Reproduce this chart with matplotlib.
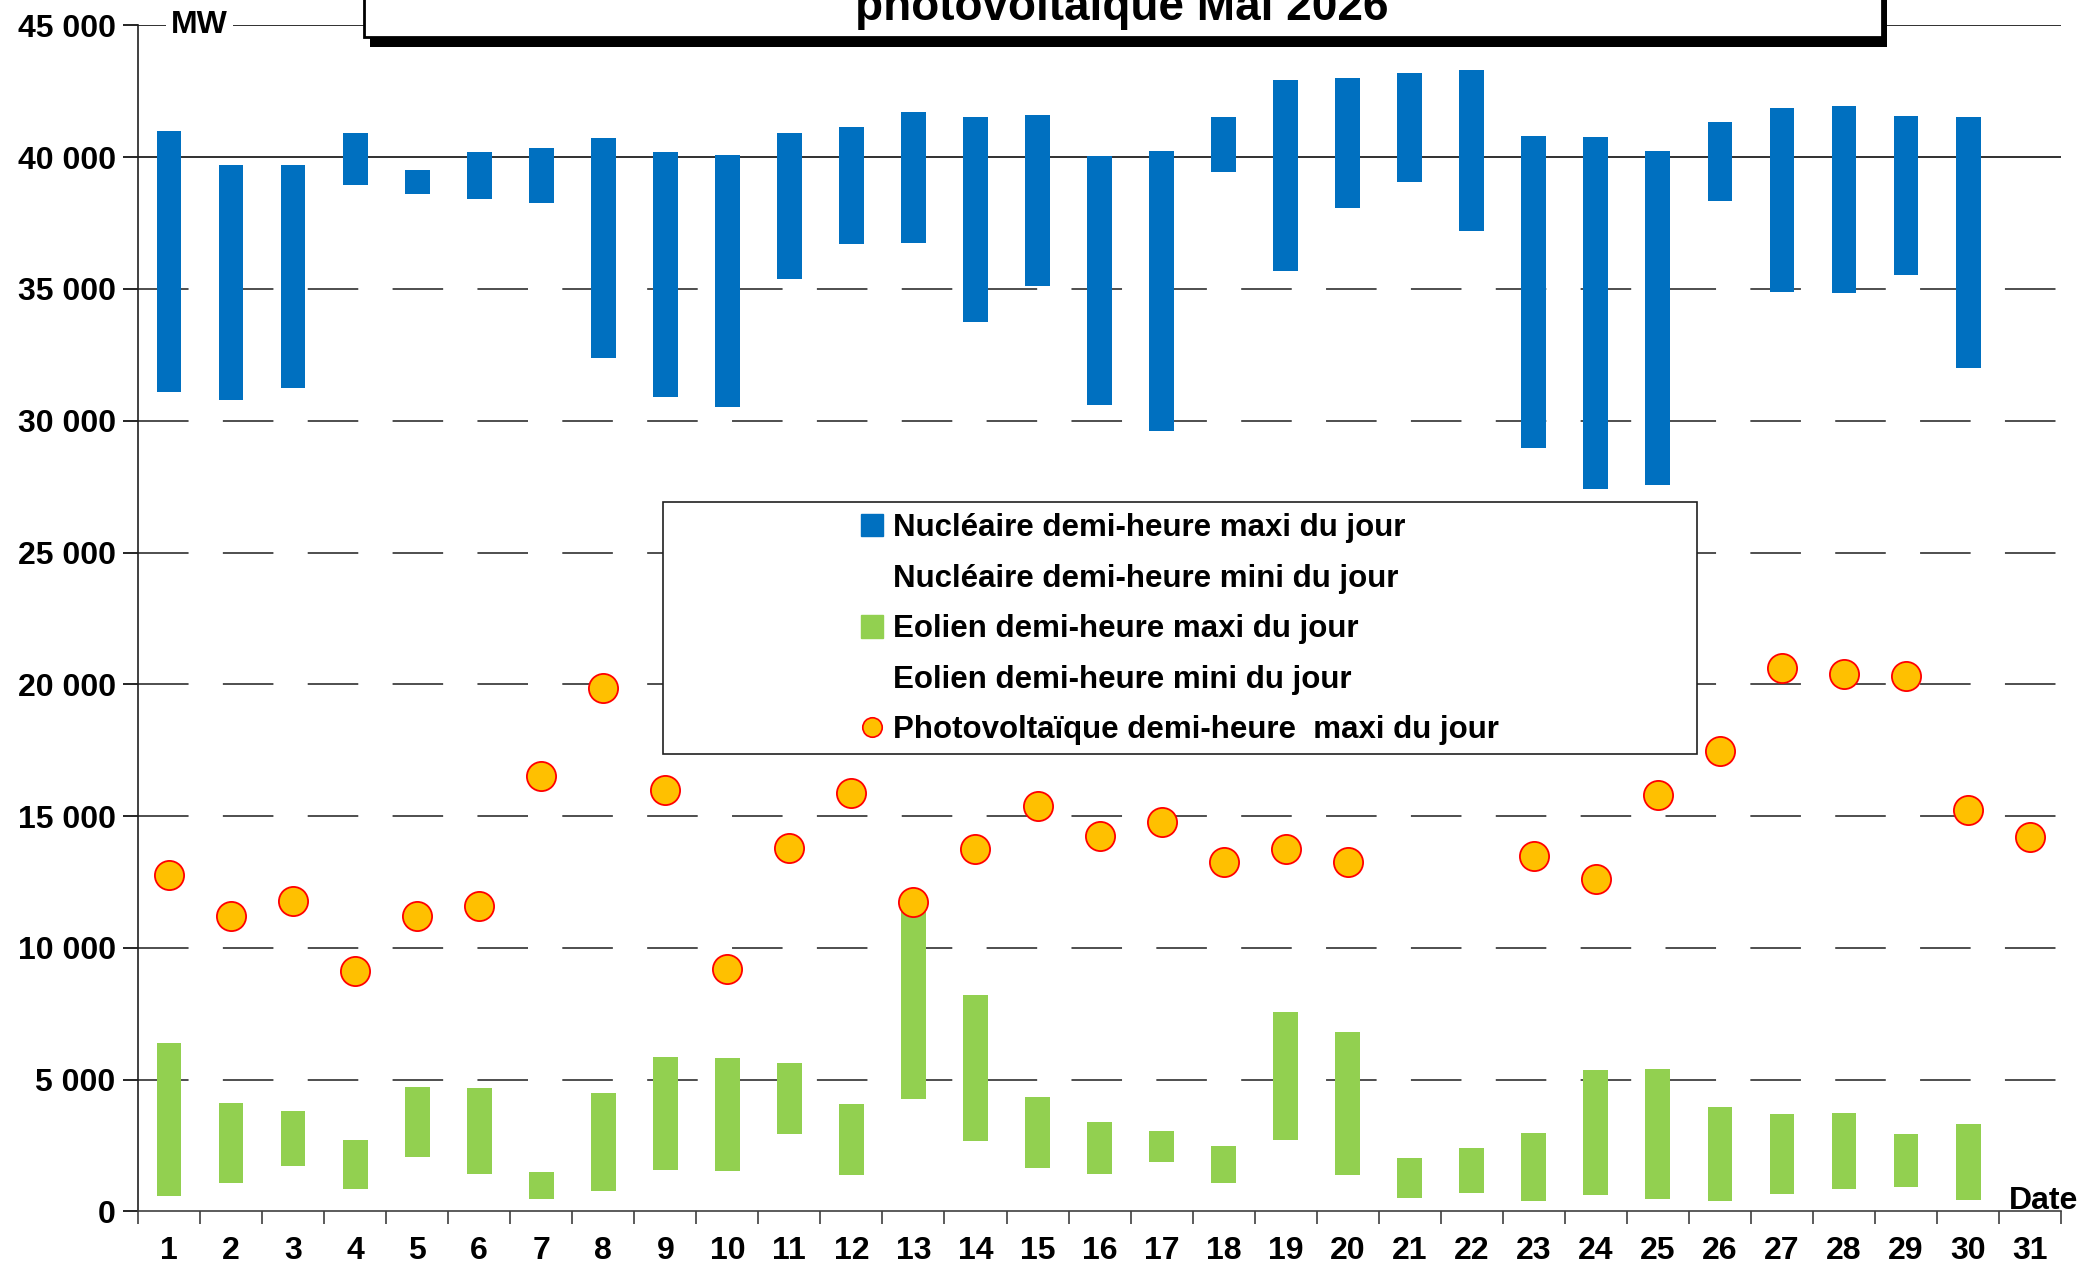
import numpy as np
import matplotlib
matplotlib.use("Agg")
import matplotlib.pyplot as plt
from matplotlib.patches import Rectangle
from matplotlib.lines import Line2D

plt.rcParams['font.family'] = ['Liberation Sans', 'DejaVu Sans']
plt.rcParams['font.weight'] = 'bold'

days = list(range(1, 32))

# nucléaire (MW) - jour 31 non disponible
nuc_max = [41000, 39700, 39700, 40900, 39500, 40200, 40340, 40710, 40180, 40100,
           40910, 41140, 41720, 41540, 41590, 40040, 40220, 41510, 42920, 42990,
           43200, 43320, 40790, 40760, 40220, 41330, 41850, 41950, 41580, 41540, np.nan]
nuc_min = [31100, 30800, 31250, 38950, 38600, 38430, 38270, 32370, 30900, 30540,
           35390, 36720, 36760, 33760, 35110, 30610, 29620, 39420, 35680, 38060,
           39060, 37210, 28950, 27420, 27580, 38320, 34890, 34860, 35530, 31990, np.nan]

# éolien (MW)
eol_max = [6390, 4100, 3810, 2700, 4710, 4680, 1500, 4500, 5880, 5820,
           5640, 4080, 11600, 8200, 4360, 3410, 3060, 2490, 7570, 6800,
           2030, 2390, 2960, 5360, 5390, 3980, 3690, 3730, 2940, 3310, np.nan]
eol_min = [590, 1090, 1720, 870, 2050, 1420, 490, 770, 1580, 1520,
           2940, 1380, 4260, 2660, 1640, 1440, 1870, 1070, 2720, 1380,
           530, 690, 400, 630, 470, 400, 650, 870, 930, 430, np.nan]

# photovoltaïque (MW)
pv_max = [12780, 11200, 11780, 9110, 11200, 11580, 16510, 19880, 15980, 9190,
          13810, 15860, 11760, 13750, 15400, 14240, 14770, 13270, 13770, 13270,
          18800, 19500, 13490, 12620, 15820, 17480, 20630, 20380, 20300, 15230, 14200]

labels = ["Nucléaire demi-heure maxi du jour",
          "Nucléaire demi-heure mini du jour",
          "Eolien demi-heure maxi du jour",
          "Eolien demi-heure mini du jour",
          "Photovoltaïque demi-heure  maxi du jour"]

BLUE = "#0070C0"
GREEN = "#92D050"
YEL = "#FFC000"

fig = plt.figure(figsize=(21, 12.65), dpi=100)
ax = fig.add_axes([0.0657, 0.0423, 0.9158, 0.9376])

x = np.array(days)
nmax, nmin = np.array(nuc_max), np.array(nuc_min)
emax, emin = np.array(eol_max), np.array(eol_min)
w = 0.4

ax.bar(x, nmax - nmin, bottom=nmin, width=w, color=BLUE, zorder=3)
ax.bar(x, emax - emin, bottom=emin, width=w, color=GREEN, zorder=3)
ax.plot(x, pv_max, ls='none', marker='o', ms=21, mfc=YEL, mec='#FF0000', mew=1.3, zorder=4)

ax.set_xlim(0.5, 31.5)
ax.set_ylim(0, 45000)

# grille
for v in range(5000, 45001, 5000):
    if v >= 40000:
        ax.axhline(v, color='#202020', lw=1.3, zorder=1)
    else:
        ax.axhline(v, color='#404040', lw=1.3, ls=(0, (28, 19)), zorder=1)

ax.set_yticks(range(0, 45001, 5000))
ax.set_yticklabels([f"{v:,}".replace(",", " ") for v in range(0, 45001, 5000)])
ax.set_xticks(x)
ax.set_xticklabels([str(d) for d in days])
ax.set_xticks(np.arange(0.5, 31.6, 1), minor=True)
ax.tick_params(axis='x', which='major', length=0, pad=18, labelsize=23)
ax.tick_params(axis='x', which='minor', length=9, width=1.2, color='#404040')
ax.tick_params(axis='y', length=11, width=1.2, labelsize=23, pad=5)
for lab in ax.get_xticklabels() + ax.get_yticklabels():
    lab.set_fontweight('bold')

for s in ['top', 'right']:
    ax.spines[s].set_visible(False)
ax.spines['left'].set_color('#202020')
ax.spines['bottom'].set_color('#404040')
ax.spines['left'].set_linewidth(1.2)
ax.spines['bottom'].set_linewidth(1.2)

ax.text(0.032, 1.0, "MW", transform=ax.transAxes, ha='center', va='center',
        fontsize=23, fontweight='bold', zorder=6,
        bbox=dict(facecolor='white', edgecolor='none', pad=4))
ax.text(0.991, -0.004, "Date", transform=ax.transAxes, ha='center', va='bottom',
        fontsize=23, fontweight='bold', zorder=6)

# légende
handles = [Rectangle((0, 0), 1, 1, color=BLUE),
           Rectangle((0, 0), 1, 1, color='none'),
           Rectangle((0, 0), 1, 1, color=GREEN),
           Rectangle((0, 0), 1, 1, color='none'),
           Line2D([], [], ls='none', marker='o', ms=14, mfc=YEL, mec='#FF0000', mew=1.2)]
ax.add_patch(Rectangle((0.273, 0.386), 0.5376, 0.212, transform=ax.transAxes,
                       facecolor='white', edgecolor='#202020', lw=1.2, zorder=5))
leg = ax.legend(handles, labels, loc='center', bbox_to_anchor=(0.5418, 0.491),
                frameon=False, handlelength=0.7, handleheight=0.75,
                handletextpad=0.3, labelspacing=0.66, prop={'weight': 'bold', 'size': 22.5})
leg.set_zorder(6)

# titre (coupé en haut)
fig.patches.append(Rectangle((0.1760, 0.963), 0.7225, 0.1, transform=fig.transFigure,
                             facecolor='black', edgecolor='none', zorder=1))
fig.patches.append(Rectangle((0.1735, 0.9705), 0.7225, 0.1, transform=fig.transFigure,
                             facecolor='white', edgecolor='black', lw=2, zorder=2))
fig.text(0.534, 0.984, "photovoltaïque Mai 2026", ha='center', va='baseline',
         fontsize=33, fontweight='bold', zorder=3)

fig.savefig("out.png", dpi=100)
